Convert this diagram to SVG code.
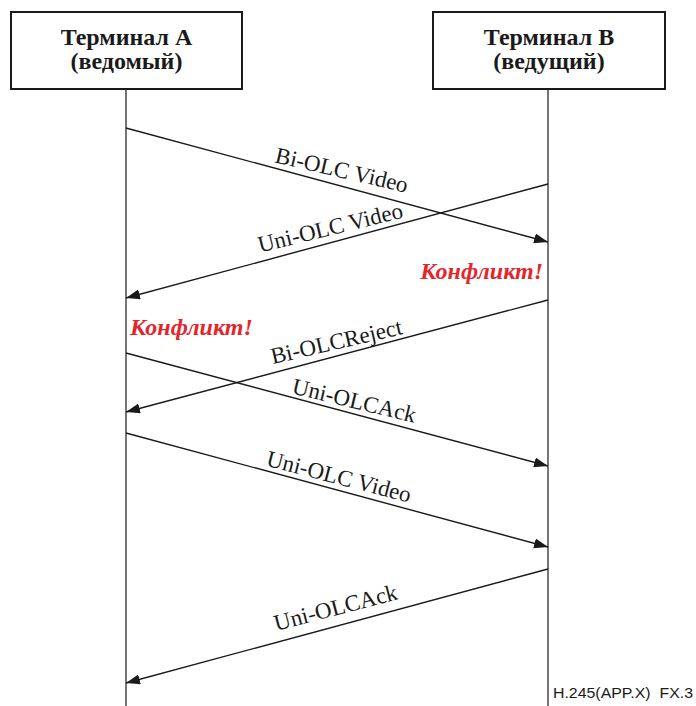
<svg xmlns="http://www.w3.org/2000/svg" width="696" height="706" viewBox="0 0 696 706">
<style>
.box{fill:#fff;stroke:#1a1a1a;stroke-width:2}
.life{stroke:#1a1a1a;stroke-width:1.2}
.msg{stroke:#1a1a1a;stroke-width:1.4;fill:none;marker-end:url(#ah)}
.title{font-family:"Liberation Serif",serif;font-weight:bold;font-size:24px;fill:#1a1a1a;text-anchor:middle}
.lbl{font-family:"Liberation Serif",serif;font-size:23px;fill:#1a1a1a;text-anchor:middle}
.conf{font-family:"Liberation Serif",serif;font-weight:bold;font-style:italic;font-size:24px;fill:#e3262b}
.foot{font-family:"Liberation Sans",Arial,sans-serif;font-size:14.5px;fill:#1a1a1a;white-space:pre}
</style>
<defs>
<marker id="ah" markerUnits="userSpaceOnUse" markerWidth="14" markerHeight="10" refX="14" refY="5" orient="auto">
<path d="M0,0 L14,5 L0,10 z" fill="#1a1a1a"/>
</marker>
</defs>
<g id="termA">
<rect class="box" x="11" y="12" width="231" height="77"/>
<text class="title" x="126.5" y="45">Терминал A</text>
<text class="title" x="126.5" y="69">(ведомый)</text>
<line class="life" x1="126" y1="89" x2="126" y2="706"/>
</g>
<g id="termB">
<rect class="box" x="433" y="12" width="232" height="77"/>
<text class="title" x="549" y="45">Терминал B</text>
<text class="title" x="549" y="69">(ведущий)</text>
<line class="life" x1="548" y1="89" x2="548" y2="706"/>
</g>
<g id="connectors">
<line class="msg" x1="126" y1="128" x2="548" y2="242"/>
<line class="msg" x1="548" y1="184" x2="126" y2="298"/>
<line class="msg" x1="548" y1="300" x2="126" y2="412"/>
<line class="msg" x1="126" y1="353" x2="548" y2="466"/>
<line class="msg" x1="126" y1="433" x2="548" y2="547"/>
<line class="msg" x1="548" y1="569" x2="126" y2="683"/>
</g>
<g id="labels">
<text class="lbl" transform="translate(340,177.5) rotate(13)">Bi-OLC Video</text>
<text class="lbl" transform="translate(332,235) rotate(-13.7)">Uni-OLC Video</text>
<text class="lbl" transform="translate(338,349) rotate(-13)">Bi-OLCReject</text>
<text class="lbl" transform="translate(352.5,408) rotate(13.5)">Uni-OLCAck</text>
<text class="lbl" transform="translate(337,484) rotate(14.5)">Uni-OLC Video</text>
<text class="lbl" transform="translate(337.5,615) rotate(-14.6)">Uni-OLCAck</text>
</g>
<g id="conflicts">
<text class="conf" x="543" y="279" text-anchor="end">Конфликт!</text>
<text class="conf" x="130" y="335">Конфликт!</text>
</g>
<text class="foot" x="553" y="698" xml:space="preserve" textLength="140" lengthAdjust="spacingAndGlyphs">H.245(APP.X)  FX.3</text>
</svg>
